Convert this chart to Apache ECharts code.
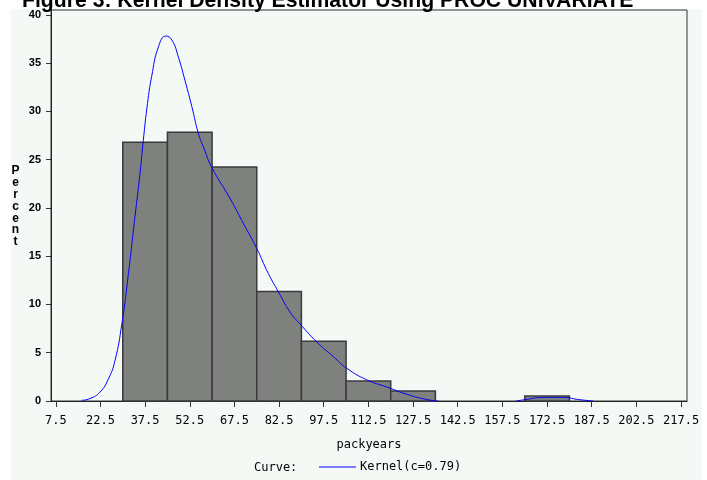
<!DOCTYPE html>
<html>
<head>
<meta charset="utf-8">
<script src="https://cdn.jsdelivr.net/npm/echarts@6/dist/echarts.min.js"></script>
<style>
  html, body { margin: 0; padding: 0; background: #ffffff; }
  #chart { width: 707px; height: 480px; }
</style>
</head>
<body>
<div id="chart"></div>
<script>
// Histogram of packyears (percent of subjects per 15-unit bin)
const binMidpoints = [37.5, 52.5, 67.5, 82.5, 97.5, 112.5, 127.5, 142.5, 157.5, 172.5];
const binPercents = [26.80, 27.84, 24.23, 11.34, 6.19, 2.06, 1.03, 0, 0, 0.52];
const binWidth = 15;

// Tick values shown on the axes
const xTickValues = [7.5, 22.5, 37.5, 52.5, 67.5, 82.5, 97.5, 112.5, 127.5, 142.5, 157.5, 172.5, 187.5, 202.5, 217.5];
const yTickValues = [0, 5, 10, 15, 20, 25, 30, 35, 40];

// Kernel density estimate (c=0.79), scaled to percent per bin
const kernelMainX = [16.2, 19.0, 22.4, 25.2, 27.4, 29.7, 31.9, 34.1, 35.8, 36.9, 38.3, 39.7, 42.0, 44.5, 46.5, 48.7, 50.9, 53.2, 55.4, 57.1, 59.9, 66.0, 70.5, 75.0, 78.9, 82.3, 86.2, 89.5, 95.2, 100.7, 105.2, 111.9, 118.7, 125.4, 132.1, 136.0];
const kernelMainY = [0.07, 0.25, 0.93, 2.3, 4.2, 8.0, 13.2, 19.1, 23.6, 27.0, 30.8, 33.6, 36.7, 37.8, 37.4, 35.6, 33.2, 30.5, 27.7, 26.3, 24.2, 21.0, 18.4, 15.8, 13.2, 11.3, 9.2, 8.0, 6.1, 4.6, 3.4, 2.2, 1.45, 0.7, 0.15, 0];
const kernelTailX = [162.1, 165.1, 170.2, 175.0, 179.1, 182.5, 188.0];
const kernelTailY = [0, 0.14, 0.35, 0.37, 0.35, 0.17, 0];

const curveName = 'Kernel(c=0.79)';
const monoFont = '"DejaVu Sans Mono", monospace';

const pairs = (xs, ys) => xs.map((x, i) => [x, ys[i]]);

const chart = echarts.init(document.getElementById('chart'), null, { renderer: 'canvas' });

const curveSeries = (data) => ({
  type: 'line',
  name: curveName,
  data: data,
  smooth: true,
  showSymbol: false,
  symbol: 'none',
  color: '#0000ff',
  lineStyle: { color: '#0000ff', width: 1 },
  itemStyle: { color: '#0000ff' },
  z: 5,
  animation: false
});

chart.setOption({
  animation: false,
  backgroundColor: '#ffffff',
  grid: {
    left: 51, right: 20, top: 10, bottom: 79,
    show: true, borderColor: '#333333', borderWidth: 1,
    backgroundColor: 'transparent'
  },
  xAxis: {
    type: 'value',
    min: 5.9,
    max: 219.5,
    splitLine: { show: false },
    axisLine: { show: true, lineStyle: { color: '#222222', width: 1 } },
    axisTick: { show: true, customValues: xTickValues, length: 6, lineStyle: { color: '#333333' } },
    axisLabel: {
      customValues: xTickValues,
      margin: 14,
      color: '#000000',
      fontFamily: monoFont,
      fontSize: 12,
      formatter: (v) => String(v)
    }
  },
  yAxis: {
    type: 'value',
    min: 0,
    max: 40.5,
    splitLine: { show: false },
    axisLine: { show: true, lineStyle: { color: '#222222', width: 1 } },
    axisTick: { show: true, customValues: yTickValues, length: 5, lineStyle: { color: '#333333' } },
    axisLabel: {
      customValues: yTickValues,
      margin: 10,
      color: '#000000',
      fontFamily: '"Liberation Sans", Arial, sans-serif',
      fontWeight: 'bold',
      fontSize: 11
    }
  },
  legend: {
    data: [curveName],
    left: 319,
    top: 461,
    icon: 'rect',
    itemWidth: 37,
    itemHeight: 1,
    itemGap: 10,
    padding: 0,
    textStyle: { color: '#000000', fontFamily: monoFont, fontSize: 12, padding: [0, 0, 0, -1] },
    selectedMode: false
  },
  graphic: [
    {
      type: 'rect', z: -100, silent: true,
      shape: { x: 11, y: 9, width: 691, height: 471 },
      style: { fill: '#f5f9f6' }
    },
    {
      type: 'text', left: 22, top: -9, silent: true,
      style: {
        text: 'Figure 3: Kernel Density Estimator Using PROC UNIVARIATE',
        fill: '#000000',
        font: 'bold 21.2px "Liberation Sans", Arial, sans-serif'
      }
    },
    {
      type: 'text', x: 15.5, y: 206.5, silent: true,
      style: {
        text: 'P\ne\nr\nc\ne\nn\nt',
        fill: '#000000',
        font: 'bold 12px "Liberation Sans", Arial, sans-serif',
        lineHeight: 11.8,
        align: 'center',
        verticalAlign: 'middle'
      }
    },
    {
      type: 'text', x: 369, y: 445, silent: true,
      style: {
        text: 'packyears',
        fill: '#000000',
        font: '12px "DejaVu Sans Mono", monospace',
        align: 'center',
        verticalAlign: 'middle'
      }
    },
    {
      type: 'text', x: 254, y: 467.5, silent: true,
      style: {
        text: 'Curve:',
        fill: '#000000',
        font: '12px "DejaVu Sans Mono", monospace',
        align: 'left',
        verticalAlign: 'middle'
      }
    }
  ],
  series: [
    {
      type: 'custom',
      name: 'Percent',
      data: pairs(binMidpoints, binPercents),
      z: 2,
      renderItem: function (params, api) {
        const mid = api.value(0);
        const pct = api.value(1);
        if (!pct) return null;
        const topLeft = api.coord([mid - binWidth / 2, pct]);
        const bottomRight = api.coord([mid + binWidth / 2, 0]);
        return {
          type: 'rect',
          shape: {
            x: topLeft[0],
            y: topLeft[1],
            width: bottomRight[0] - topLeft[0],
            height: bottomRight[1] - topLeft[1]
          },
          style: { fill: '#7f817e', stroke: '#3a3a3a', lineWidth: 1.5 }
        };
      }
    },
    curveSeries(pairs(kernelMainX, kernelMainY)),
    curveSeries(pairs(kernelTailX, kernelTailY))
  ]
});
</script>
</body>
</html>
